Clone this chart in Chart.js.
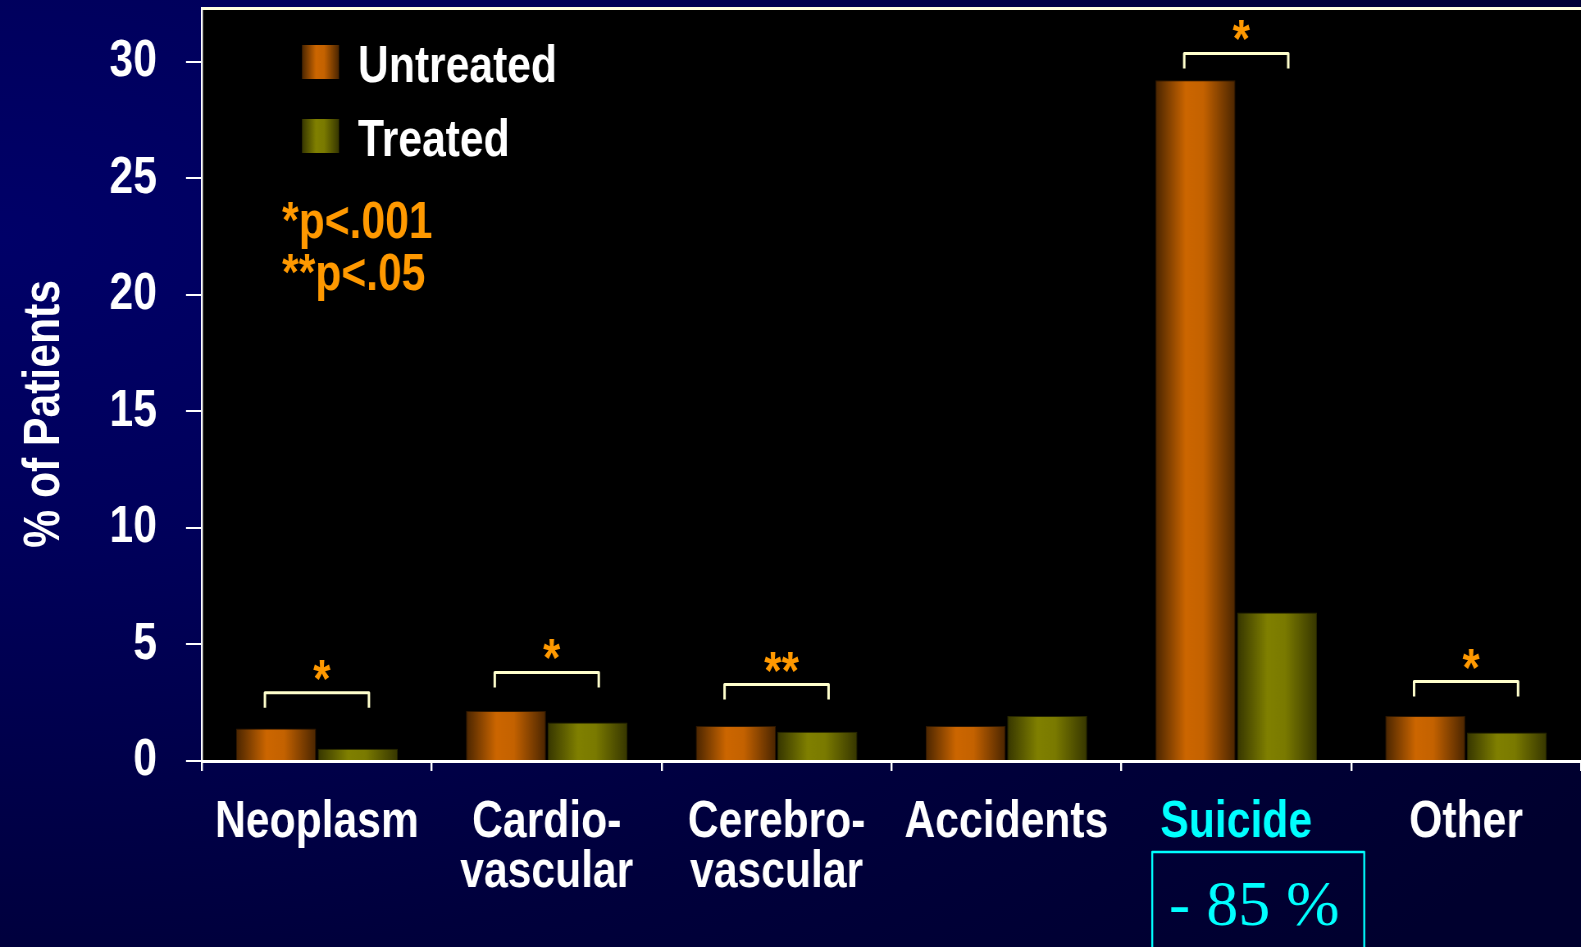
<!DOCTYPE html>
<html lang="en">
<head>
<meta charset="UTF-8">
<title>% of Patients by cause of death</title>
<script src="https://cdn.jsdelivr.net/npm/chart.js@4.4.0/dist/chart.umd.min.js"></script>
<style>
    html, body { margin: 0; padding: 0; }
    body {
        width: 1581px;
        height: 947px;
        overflow: hidden;
        background: radial-gradient(ellipse 120% 110% at 0% 25%, #000068 0%, #00005a 30%, #00003c 70%, #00002e 100%);
    }
    /* el lienzo se dibuja mas ancho y se comprime en x: da el aspecto de letra estrecha */
    #wrap {
        position: relative;
        width: 1928px;
        height: 947px;
        transform: scaleX(0.82);
        transform-origin: 0 0;
    }
</style>
</head>
<body>

<div id="wrap"><canvas id="grafico"></canvas></div>

<script>
    // datos
    const categories = [['Neoplasm'], ['Cardio-', 'vascular'], ['Cerebro-', 'vascular'], ['Accidents'], ['Suicide'], ['Other']];
    const untreated = [1.39, 2.15, 1.5, 1.5, 29.2, 1.93];
    const treated = [0.53, 1.65, 1.25, 1.93, 6.37, 1.22];
    const yTicks = [0, 5, 10, 15, 20, 25, 30];
    const sigMarks = ['*', '*', '**', '', '*', '*'];
    const bracketLevel = [2.93, 3.8, 3.28, null, 30.35, 3.41];
    const pNotes = ['*p<.001', '**p<.05'];
    const suicideNote = '- 85 %';

    const SX = 0.82; // compresion horizontal del contenedor
    const FONT = '"Liberation Sans", Arial, sans-serif';
    const ORANGE_TXT = '#ff9900';

    function barGradient(ctx, x0, x1, tone) {
        const g = ctx.createLinearGradient(x0, 0, x1, 0);
        if (tone === 0) {
            g.addColorStop(0, '#4a2500');
            g.addColorStop(0.38, '#cc6600');
            g.addColorStop(0.6, '#c46200');
            g.addColorStop(1, '#4a2500');
        } else {
            g.addColorStop(0, '#363600');
            g.addColorStop(0.38, '#808000');
            g.addColorStop(0.6, '#7a7a00');
            g.addColorStop(1, '#363600');
        }
        return g;
    }

    const decor = {
        id: 'decor',
        beforeDraw(chart) {
            const { ctx, chartArea: a } = chart;
            ctx.save();
            ctx.fillStyle = '#000000';
            ctx.fillRect(a.left, a.top, a.right - a.left, a.bottom - a.top);
            ctx.restore();
        },
        beforeDatasetsDraw(chart) {
            chart.data.datasets.forEach((ds, i) => {
                chart.getDatasetMeta(i).data.forEach(el => {
                    const g = barGradient(chart.ctx, el.x - el.width / 2, el.x + el.width / 2, i);
                    el.options = Object.assign({}, el.options, { backgroundColor: g });
                });
            });
        },
        afterDraw(chart) {
            const { ctx, chartArea: a, scales: { x, y } } = chart;
            ctx.save();

            // borde superior
            ctx.strokeStyle = '#ffffe0';
            ctx.lineWidth = 3;
            ctx.beginPath();
            ctx.moveTo(a.left, a.top + 0.5);
            ctx.lineTo(a.right, a.top + 0.5);
            ctx.stroke();

            // leyenda
            ctx.font = 'bold 52px ' + FONT;
            ctx.textAlign = 'left';
            ctx.textBaseline = 'alphabetic';
            chart.data.datasets.forEach((ds, i) => {
                const sx = a.left + 100 / SX, sy = 45 + i * 74;
                ctx.fillStyle = barGradient(ctx, sx, sx + 37 / SX, i);
                ctx.fillRect(sx, sy, 37 / SX, 34);
                ctx.fillStyle = '#ffffff';
                ctx.fillText(ds.label, a.left + 156 / SX, sy + 37);
            });

            // notas de p
            ctx.fillStyle = ORANGE_TXT;
            pNotes.forEach((t, i) => ctx.fillText(t, a.left + 80 / SX, 238 + i * 52));

            // titulo eje y (girado, tambien estrecho)
            ctx.save();
            ctx.translate(59 / SX, 414);
            ctx.scale(1 / SX, SX);
            ctx.rotate(-Math.PI / 2);
            ctx.textAlign = 'center';
            ctx.fillStyle = '#ffffff';
            ctx.fillText('% of Patients', 0, 0);
            ctx.restore();

            // corchetes y asteriscos
            bracketLevel.forEach((lvl, i) => {
                if (lvl === null) return;
                const cx = x.getPixelForValue(i);
                const yt = y.getPixelForValue(lvl);
                const hw = 52 / SX;
                ctx.strokeStyle = '#ffffcc';
                ctx.lineWidth = 3;
                ctx.lineJoin = 'round';
                ctx.beginPath();
                ctx.moveTo(cx - hw, yt + 15);
                ctx.lineTo(cx - hw, yt);
                ctx.lineTo(cx + hw, yt);
                ctx.lineTo(cx + hw, yt + 15);
                ctx.stroke();
                ctx.fillStyle = ORANGE_TXT;
                ctx.font = 'bold 54px ' + FONT;
                ctx.textAlign = 'center';
                ctx.fillText(sigMarks[i], cx + 5 / SX, yt + 4);
            });

            // recuadro suicidio
            const sc = x.getPixelForValue(4);
            ctx.strokeStyle = '#00ffff';
            ctx.lineWidth = 2.4;
            ctx.strokeRect(sc - 84 / SX, 852, 212 / SX, 120);
            ctx.save();
            ctx.translate(sc + 18 / SX, 925);
            ctx.scale(1 / SX, 1);
            ctx.fillStyle = '#00ffff';
            ctx.font = '64px "Liberation Serif", "Times New Roman", serif';
            ctx.textAlign = 'center';
            ctx.fillText(suicideNote, 0, 0);
            ctx.restore();

            ctx.restore();
        }
    };

    const chart = new Chart(document.getElementById('grafico'), {
        type: 'bar',
        data: {
            labels: categories,
            datasets: [
                { label: 'Untreated', data: untreated, backgroundColor: () => '#cc6600', borderColor: '#2e1700', borderWidth: 1, borderSkipped: 'bottom', categoryPercentage: 0.71, barPercentage: 0.98 },
                { label: 'Treated', data: treated, backgroundColor: () => '#808000', borderColor: '#262600', borderWidth: 1, borderSkipped: 'bottom', categoryPercentage: 0.71, barPercentage: 0.98 }
            ]
        },
        options: {
            responsive: true,
            maintainAspectRatio: false,
            animation: false,
            layout: { autoPadding: false, padding: { top: 8, left: 0, right: 0, bottom: 0 } },
            plugins: { legend: { display: false }, tooltip: { enabled: false } },
            scales: {
                x: {
                    grid: { drawOnChartArea: false, drawTicks: true, tickLength: 10, color: '#ffffff', lineWidth: 2.4, offset: true },
                    border: { display: true, color: '#ffffff', width: 3 },
                    ticks: {
                        autoSkip: false,
                        maxRotation: 0,
                        padding: 27,
                        font: { family: FONT, size: 52, weight: 'bold', lineHeight: 0.96 },
                        color: c => (categories[c.index][0] === 'Suicide' ? '#00ffff' : '#ffffff')
                    },
                    afterFit: s => {
                        s.height = 186;
                        s.paddingLeft = 0;
                        s.paddingRight = 0;
                    }
                },
                y: {
                    min: 0,
                    max: 32.3,
                    grid: { drawOnChartArea: false, drawTicks: true, tickLength: 16 / SX, color: '#ffffff', lineWidth: 2 },
                    border: { display: true, color: '#ffffff', width: 2.4 },
                    ticks: {
                        padding: 29 / SX,
                        font: { family: FONT, size: 52, weight: 'bold' },
                        color: '#ffffff'
                    },
                    afterBuildTicks: s => { s.ticks = yTicks.map(v => ({ value: v })); },
                    afterFit: s => {
                        s.width = 202 / SX;
                        s.paddingTop = 0;
                        s.paddingBottom = 0;
                    }
                }
            }
        },
        plugins: [decor]
    });
</script>

</body>
</html>
